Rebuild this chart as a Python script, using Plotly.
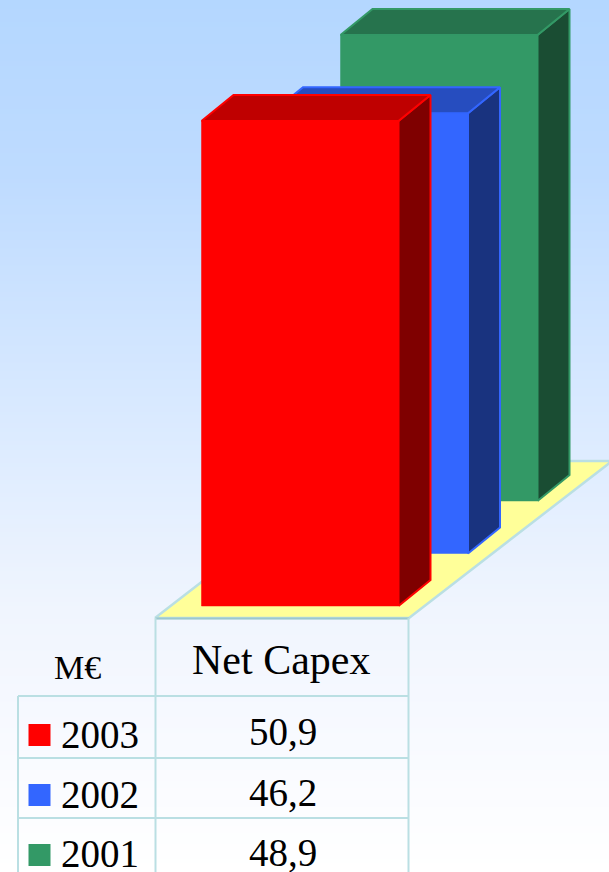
import plotly.graph_objects as go

# Chart data
years = ["2003", "2002", "2001"]
net_capex = [50.9, 46.2, 48.9]
value_labels = ["50,9", "46,2", "48,9"]
metric_label = "Net Capex"
unit_label = "M€"

front_colors = ["#FF0000", "#3366FF", "#339966"]
top_colors = ["#BF0000", "#264DBF", "#26734D"]
side_colors = ["#7F0000", "#19337F", "#1A4D33"]

# Background gradient stops: fraction of page height, colour
grad_pos = [0.0, 0.2, 0.5, 0.7, 0.85, 1.0]
grad_col = ["#B4D7FF", "#BEDBFF", "#DCEBFF", "#F0F5FE", "#F8FAFF", "#FFFFFF"]

# Page and projection constants
W, H = 609, 872
BASE = 606          # page row of the value axis zero
PX_PER_UNIT = 9.53
BAR_LEFT, BAR_W = 201.5, 197
STEP_X, STEP_Y = 69.5, 52.5   # shift between successive rows of bars
DEPTH_X, DEPTH_Y = 32, 26   # projected bar depth
EDGE = "#BADFE3"


def v(row):
    """Page row to value-axis units."""
    return (BASE - row) / PX_PER_UNIT


fig = go.Figure()

# Gradient background
rows = [p * H for p in grad_pos]
fig.add_trace(go.Heatmap(
    x=[-5, W + 5], y=[v(r) for r in rows],
    z=[[p, p] for p in grad_pos],
    colorscale=[[p, c] for p, c in zip(grad_pos, grad_col)],
    zmin=0, zmax=1, zsmooth="best", showscale=False, hoverinfo="skip",
))


def poly(xs, ys, fill, line, width=2):
    fig.add_trace(go.Scatter(
        x=xs + xs[:1], y=ys + ys[:1], mode="lines", fill="toself",
        fillcolor=fill, line=dict(color=line, width=width),
        hoverinfo="skip", showlegend=False,
    ))


# Floor plate
poly([155, 409, 612, 358], [v(618), v(618), v(461), v(461)], "#FFFF99", EDGE, 2.5)

# Bars from the back row forward: side, top, then front face
dy = DEPTH_Y / PX_PER_UNIT
for i in reversed(range(len(years))):
    val = net_capex[i]
    x0 = BAR_LEFT + i * STEP_X
    x1 = x0 + BAR_W
    y0 = i * STEP_Y / PX_PER_UNIT
    y1 = y0 + val
    poly([x1, x1 + DEPTH_X, x1 + DEPTH_X, x1], [y0, y0 + dy, y1 + dy, y1],
         side_colors[i], front_colors[i])
    poly([x0, x1, x1 + DEPTH_X, x0 + DEPTH_X], [y1, y1, y1 + dy, y1 + dy],
         top_colors[i], front_colors[i])
    poly([x0, x1, x1, x0], [y0, y0, y1, y1], front_colors[i], front_colors[i], 0.5)

# Data table rules
row_lines = [696, 758, 818]
shapes = [
    dict(type="line", x0=155.5, x1=409, y0=v(618.5), y1=v(618.5),
         line=dict(color="#9CC8CE", width=2)),
    dict(type="line", x0=155.5, x1=155.5, y0=v(618), y1=v(872),
         line=dict(color=EDGE, width=2)),
    dict(type="line", x0=408.5, x1=408.5, y0=v(618), y1=v(872),
         line=dict(color=EDGE, width=2)),
    dict(type="line", x0=18, x1=18, y0=v(696), y1=v(872),
         line=dict(color=EDGE, width=2)),
]
for r in row_lines:
    shapes.append(dict(type="line", x0=18, x1=409, y0=v(r), y1=v(r),
                       line=dict(color=EDGE, width=2)))

# Table text and legend keys
year_rows = [734, 794, 853.5]
value_rows = [731, 792.5, 852.5]
key_rows = [735, 795, 855]
font = "Liberation Serif"
annotations = [
    dict(x=281, y=v(659.5), text=metric_label, font=dict(size=42, family=font)),
    dict(x=77.5, y=v(667), text=unit_label, font=dict(size=34, family=font)),
]
for lab, val, yr, vr in zip(years, value_labels, year_rows, value_rows):
    annotations.append(dict(x=60, y=v(yr), text=lab, xanchor="left",
                            font=dict(size=39, family=font)))
    annotations.append(dict(x=283, y=v(vr), text=val,
                            font=dict(size=39, family=font)))
for a in annotations:
    a.update(showarrow=False, yanchor="middle", xref="x", yref="y")
    a["font"]["color"] = "#000000"
    a.setdefault("xanchor", "center")
    a.update(borderpad=0)

fig.add_trace(go.Scatter(
    x=[39.5] * 3, y=[v(r) for r in key_rows], mode="markers",
    marker=dict(symbol="square", size=22, color=front_colors, line=dict(width=0)),
    hoverinfo="skip", showlegend=False,
))

fig.update_layout(
    width=W, height=H, autosize=False,
    margin=dict(l=0, r=0, t=0, b=0, pad=0),
    paper_bgcolor="#FFFFFF", plot_bgcolor="#FFFFFF",
    showlegend=False, shapes=shapes, annotations=annotations,
    xaxis=dict(range=[0, W], visible=False, fixedrange=True),
    yaxis=dict(range=[v(H), v(0)], visible=False, fixedrange=True),
)

fig.write_html("out.html", config={"displayModeBar": False})
